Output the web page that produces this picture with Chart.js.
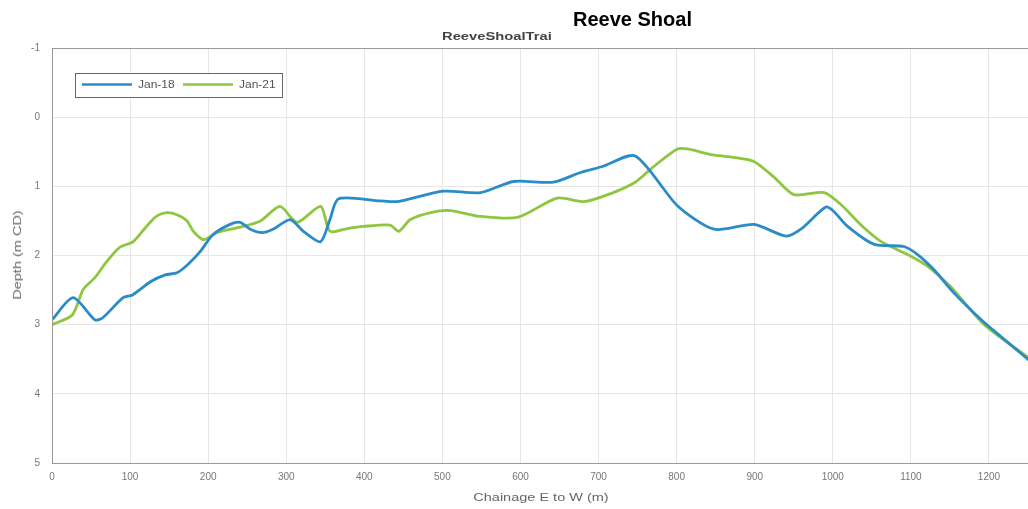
<!DOCTYPE html>
<html>
<head>
<meta charset="utf-8">
<script src="https://cdn.jsdelivr.net/npm/chart.js@4/dist/chart.umd.min.js"></script>
<style>
  html, body { margin: 0; padding: 0; background: #fff; }
  #wrap { position: relative; width: 1028px; height: 509px; }
  .txt { position: absolute; white-space: nowrap; font-family: "Liberation Sans", Arial, sans-serif; }
  #titulo { left: 573px; top: 9px; font-size: 20px; line-height: 20px; font-weight: bold; color: #000; }
  #subtitulo { left: 442px; top: 31px; font-size: 11px; line-height: 11px; font-weight: bold; color: #444; transform: scaleX(1.34); transform-origin: left top; }
  #ejeX { left: 541px; top: 498px; font-size: 10px; line-height: 10px; color: #666; transform: translate(-50%, -50%) scaleX(1.45); }
  #ejeY { left: 18px; top: 255px; font-size: 10px; line-height: 10px; color: #666; transform: translate(-50%, -50%) rotate(-90deg) scaleX(1.45); }
</style>
</head>
<body>
<div id="wrap">
  <canvas id="perfil" width="1028" height="509"></canvas>
  <div class="txt" id="subtitulo">ReeveShoalTrai</div>
  <div class="txt" id="titulo">Reeve Shoal</div>
  <div class="txt" id="ejeX">Chainage E to W (m)</div>
  <div class="txt" id="ejeY">Depth (m CD)</div>
</div>
<script>
// datos (chainage en m, profundidad en m CD)
var chainage18 = [0, 27, 55, 65, 91, 103, 126, 145, 160, 174, 190, 206, 228, 241, 254, 269, 283, 305, 322, 344, 356, 367, 420, 442, 501, 549, 591, 642, 677, 706, 747, 801, 848, 899, 940, 959, 991, 1001, 1019, 1053, 1091, 1109, 1129, 1155, 1194, 1215, 1251]
var depth18 = [2.93, 2.61, 2.93, 2.9, 2.61, 2.57, 2.38, 2.28, 2.25, 2.13, 1.94, 1.70, 1.55, 1.52, 1.62, 1.67, 1.62, 1.48, 1.65, 1.80, 1.48, 1.18, 1.21, 1.22, 1.07, 1.09, 0.93, 0.94, 0.80, 0.71, 0.56, 1.28, 1.62, 1.55, 1.72, 1.62, 1.30, 1.36, 1.58, 1.84, 1.87, 1.99, 2.20, 2.54, 2.97, 3.17, 3.51]

var chainage21 = [0, 26, 40, 55, 70, 87, 104, 121, 134, 147, 160, 173, 181, 194, 211, 241, 267, 292, 314, 344, 356, 378, 399, 433, 444, 459, 485, 510, 545, 596, 647, 681, 712, 747, 771, 801, 814, 844, 873, 899, 925, 950, 989, 1010, 1040, 1062, 1100, 1122, 1151, 1194, 1251]
var depth21 = [3.0, 2.86, 2.49, 2.32, 2.09, 1.88, 1.80, 1.58, 1.43, 1.38, 1.41, 1.50, 1.65, 1.77, 1.67, 1.59, 1.50, 1.29, 1.52, 1.29, 1.65, 1.61, 1.58, 1.56, 1.65, 1.48, 1.38, 1.35, 1.43, 1.45, 1.17, 1.22, 1.12, 0.94, 0.71, 0.46, 0.46, 0.54, 0.58, 0.64, 0.87, 1.12, 1.09, 1.26, 1.60, 1.80, 2.01, 2.16, 2.45, 3.00, 3.48]

var series = ['Jan-18', 'Jan-21']
var xTicks = [0, 100, 200, 300, 400, 500, 600, 700, 800, 900, 1000, 1100, 1200]
var yTicks = [-1, 0, 1, 2, 3, 4, 5]

function puntos(xs, ys) {
    var arr = []
    for (let i = 0; i < xs.length; i++) {
        arr.push({ x: xs[i], y: ys[i] })
    }
    return arr
}

// marco alrededor del area y leyenda dentro del grafico
var marcoLeyenda = {
    id: 'marcoLeyenda',
    afterDraw: function (chart) {
        var ctx = chart.ctx
        var a = chart.chartArea
        ctx.save()
        ctx.strokeStyle = '#9a9a9a'
        ctx.lineWidth = 1
        ctx.strokeRect(a.left + 0.5, a.top + 0.5, a.right - a.left + 5, a.bottom - a.top)
        // leyenda
        var lx = 75, ly = 73, lw = 207, lh = 24
        ctx.fillStyle = '#fff'
        ctx.fillRect(lx, ly, lw, lh)
        ctx.strokeStyle = '#666'
        ctx.strokeRect(lx + 0.5, ly + 0.5, lw, lh)
        var posiciones = [82, 183]
        chart.data.datasets.forEach(function (ds, i) {
            var x0 = posiciones[i]
            ctx.strokeStyle = ds.borderColor
            ctx.lineWidth = 2.5
            ctx.beginPath()
            ctx.moveTo(x0, ly + 11.5)
            ctx.lineTo(x0 + 50, ly + 11.5)
            ctx.stroke()
            ctx.save()
            ctx.translate(x0 + 56, ly + 12)
            ctx.scale(1.2, 1)
            ctx.fillStyle = '#555'
            ctx.font = '10px "Liberation Sans", Arial, sans-serif'
            ctx.textBaseline = 'middle'
            ctx.fillText(ds.label, 0, 0)
            ctx.restore()
        })
        ctx.restore()
    }
}

var chart = new Chart(document.getElementById('perfil').getContext('2d'), {
    type: 'line',
    data: {
        datasets: [{
            label: series[0],
            borderColor: '#2a8cc6',
            data: puntos(chainage18, depth18)
        }, {
            label: series[1],
            borderColor: '#8fc640',
            data: puntos(chainage21, depth21)
        }]
    },
    options: {
        responsive: false,
        animation: false,
        layout: { padding: { top: 48, right: 0, left: 0, bottom: 0 } },
        elements: {
            point: { radius: 0 },
            line: { borderWidth: 2.8, tension: 0.25, fill: false }
        },
        plugins: {
            legend: { display: false },
            tooltip: { enabled: false }
        },
        scales: {
            x: {
                type: 'linear',
                min: 0,
                max: 1250,
                afterBuildTicks: function (s) { s.ticks = xTicks.map(function (v) { return { value: v } }) },
                afterFit: function (s) { s.height = 46 },
                grid: { color: '#e6e6e6', drawTicks: false },
                border: { display: false },
                ticks: { color: '#777', font: { size: 10 }, padding: 8, maxRotation: 0, callback: function (v) { return String(v) } },
                title: { display: false }
            },
            y: {
                reverse: true,
                min: -1,
                max: 5,
                afterBuildTicks: function (s) { s.ticks = yTicks.map(function (v) { return { value: v } }) },
                afterFit: function (s) { s.width = 52 },
                grid: { color: '#e6e6e6', drawTicks: false },
                border: { display: false },
                ticks: { color: '#777', font: { size: 10 }, padding: 12 },
                title: { display: false }
            }
        }
    },
    plugins: [marcoLeyenda]
});
</script>
</body>
</html>
